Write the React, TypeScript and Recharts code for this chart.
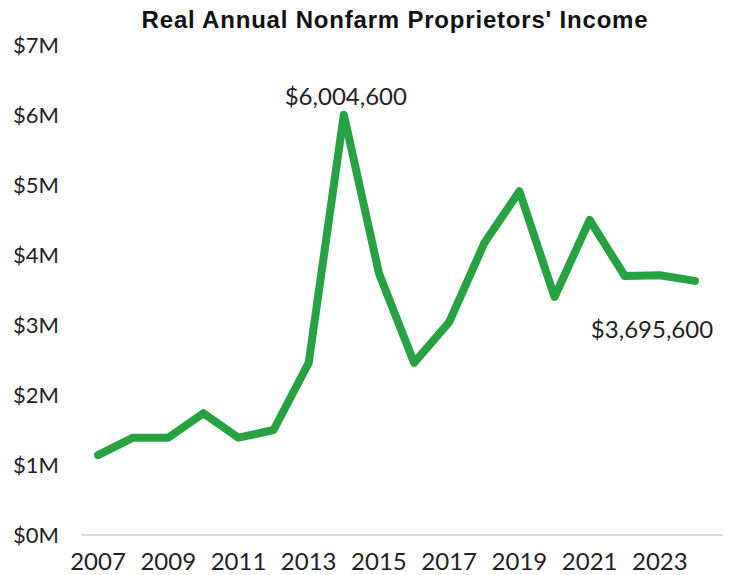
import React from "react";
import { LineChart, Line, XAxis, YAxis } from "recharts";

const years = ["2007","2008","2009","2010","2011","2012","2013","2014","2015","2016","2017","2018","2019","2020","2021","2022","2023","2024"];
const income = [1140000,1390000,1390000,1740000,1390000,1500000,2460000,6004600,3740000,2460000,3040000,4170000,4910000,3400000,4500000,3700000,3710000,3630000];
const yTicks = [0,1000000,2000000,3000000,4000000,5000000,6000000,7000000];
const xTicks = ["2007","2009","2011","2013","2015","2017","2019","2021","2023"];
const peakLabel = "$6,004,600";
const lastLabel = "$3,695,600";
const title = "Real Annual Nonfarm Proprietors' Income";

const data = years.map((y, i) => ({ year: y, value: income[i] }));

const FONT = "Lato, 'Open Sans', sans-serif";

const YTick = (props: any) => {
  const { y, payload } = props;
  return (
    <text x={59} y={y} dy="0.35em" textAnchor="end" fill="#222" fontSize={22} fontFamily={FONT}>
      {`$${payload.value / 1000000}M`}
    </text>
  );
};

const XTick = (props: any) => {
  const { x, payload } = props;
  return (
    <text x={x} y={570} textAnchor="middle" fill="#222" fontSize={24} fontFamily={FONT}>
      {payload.value}
    </text>
  );
};

const PointLabel = (props: any) => {
  const { x, y, index } = props;
  if (index === 7) {
    return (
      <text x={x + 2} y={y - 10} textAnchor="middle" fill="#222" fontSize={24} fontFamily={FONT}>
        {peakLabel}
      </text>
    );
  }
  if (index === years.length - 1) {
    return (
      <text x={x - 43} y={y + 57} textAnchor="middle" fill="#222" fontSize={24} fontFamily={FONT}>
        {lastLabel}
      </text>
    );
  }
  return null;
};

export default function App() {
  return (
    <div style={{ position: "absolute", left: 0, top: 0, width: 731, height: 575, background: "#fff" }}>
      <div
        style={{
          position: "absolute",
          left: 0,
          top: 9,
          width: 790,
          textAlign: "center",
          fontFamily: "'Liberation Sans', Arial, sans-serif",
          fontWeight: 700,
          fontSize: 24,
          letterSpacing: 0.8,
          lineHeight: "22px",
          color: "#111",
          whiteSpace: "nowrap",
        }}
      >
        {title}
      </div>
      <LineChart
        width={731}
        height={575}
        data={data}
        margin={{ top: 45, right: 8, bottom: 0, left: 0 }}
      >
        <XAxis
          dataKey="year"
          ticks={xTicks}
          interval={0}
          tick={<XTick />}
          tickLine={false}
          axisLine={{ stroke: "#dcdcdc", strokeWidth: 2 }}
          padding={{ left: 17, right: 28 }}
          height={40}
        />
        <YAxis
          domain={[0, 7000000]}
          ticks={yTicks}
          tick={<YTick />}
          tickLine={false}
          axisLine={false}
          width={81}
          interval={0}
        />
        <Line
          type="linear"
          dataKey="value"
          stroke="#27a243"
          strokeWidth={8}
          strokeLinejoin="round"
          strokeLinecap="round"
          dot={false}
          activeDot={false}
          isAnimationActive={false}
          label={<PointLabel />}
        />
      </LineChart>
    </div>
  );
}
